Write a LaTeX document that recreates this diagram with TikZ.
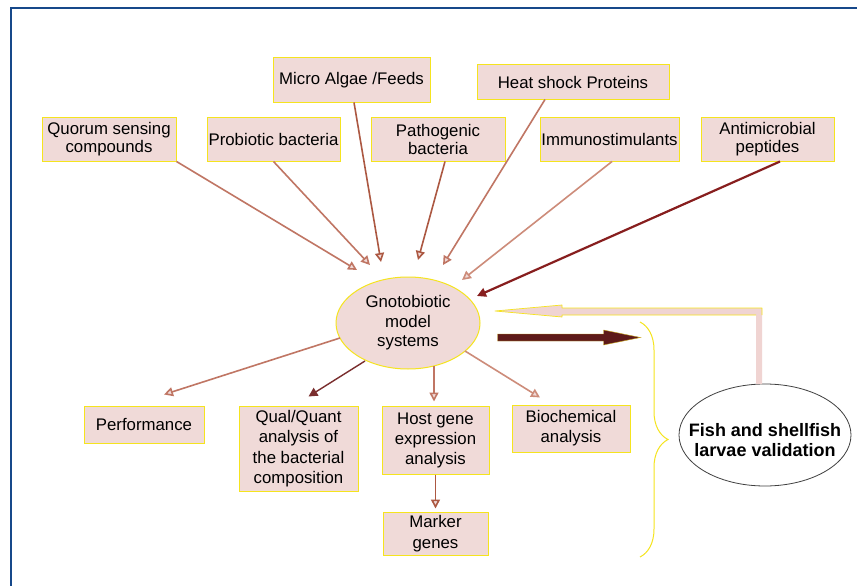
\documentclass[tikz,border=0pt]{standalone}
\usepackage{fontspec}
\setmainfont{Liberation Sans}
\usetikzlibrary{arrows.meta,shapes.geometric,decorations.pathreplacing,calc}
\definecolor{boxfill}{RGB}{240,218,216}
\definecolor{boxline}{RGB}{245,228,30}
\definecolor{arrlight}{RGB}{192,118,100}
\definecolor{arrpale}{RGB}{205,140,122}
\definecolor{arrmid}{RGB}{172,88,66}
\definecolor{arrdark}{RGB}{122,46,46}
\definecolor{arrdeep}{RGB}{135,30,30}
\definecolor{thickarr}{RGB}{94,26,26}
\definecolor{framecol}{RGB}{22,72,138}
\definecolor{fbpink}{RGB}{240,212,210}
\begin{document}
\begin{tikzpicture}[x=1pt,y=-1pt,
  box/.style={draw=boxline, line width=1pt, fill=boxfill, inner sep=0pt, align=center,
    font=\fontsize{16.8}{18}\selectfont},
  lowbox/.style={box, font=\fontsize{16.8}{20.5}\selectfont},
  inarr/.style={draw=#1, line width=1.6pt, -{Triangle[length=9pt,width=9pt,fill=boxfill]}},
  fullarr/.style={draw=#1, line width=1.8pt, -{Triangle[length=9pt,width=9pt]}},
]
\useasboundingbox (0,0) rectangle (857,586);
\fill[white] (0,0) rectangle (857,586);
\draw[framecol, line width=2.5pt] (11,586) -- (11,8) -- (857,8);

% top boxes
\node[box, minimum width=134pt, minimum height=44pt] (qs) at (109,139) {Quorum sensing\\compounds};
\node[box, minimum width=133pt, minimum height=44pt] (pb) at (273.5,139) {Probiotic bacteria};
\node[box, minimum width=157pt, minimum height=44pt] (ma) at (351.5,80) {Micro Algae /Feeds};
\node[box, minimum width=134pt, minimum height=44pt] (pa) at (438,139) {Pathogenic\\bacteria};
\node[box, minimum width=192pt, minimum height=34pt] (hs) at (573,82) {Heat shock Proteins};
\node[box, minimum width=139pt, minimum height=44pt] (im) at (609.5,139) {Immunostimulants};
\node[box, minimum width=133pt, minimum height=44pt] (am) at (767.5,139) {Antimicrobial\\peptides};

% centre
\node[ellipse, draw=boxline, line width=1pt, fill=boxfill, minimum width=144pt, minimum height=92pt,
  inner sep=0pt, align=center, font=\fontsize{16.8}{19.5}\selectfont] (gn) at (408,323) {Gnotobiotic\\model\\systems};

% bottom boxes
\node[lowbox, minimum width=120pt, minimum height=37pt] (perf) at (144,424.5) {Performance};
\node[lowbox, minimum width=119pt, minimum height=85pt] (qq) at (298.5,448.5) {Qual/Quant\\analysis of\\the bacterial\\composition};
\node[lowbox, minimum width=107pt, minimum height=68pt, font=\fontsize{16.8}{20}\selectfont] (hg) at (435.5,440) {Host gene\\expression\\analysis};
\node[lowbox, minimum width=118pt, minimum height=47pt, font=\fontsize{16.8}{20}\selectfont] (bc) at (571,428.5) {Biochemical\\analysis};
\node[lowbox, minimum width=105pt, minimum height=43pt] (mg) at (435.5,533.5) {Marker\\genes};

% fish ellipse
\node[ellipse, draw=black!75, line width=0.8pt, fill=white, minimum width=172pt, minimum height=102pt, inner sep=0pt] (fish) at (765,435) {};
\node[align=center, inner sep=0pt, font=\bfseries\fontsize{18}{20}\selectfont] (fishtxt) at (765,440) {Fish and shellfish\\larvae validation};

% incoming arrows
\draw[inarr=arrlight] (qs.south east) -- ($(gn)+(-51,-53)$);
\draw[inarr=arrlight] (pb.south) -- ($(gn)+(-38,-58)$);
\draw[inarr=arrmid] ($(ma.south)+(2.5,0)$) -- ($(gn)+(-27,-61)$);
\draw[inarr=arrmid] ($(pa.south)+(7,0)$) -- ($(gn)+(10,-63)$);
\draw[inarr=arrlight] ($(hs.south)+(-28,0)$) -- ($(gn)+(35,-58)$);
\draw[inarr=arrpale] ($(im.south)+(2.5,0)$) -- ($(gn)+(54,-43)$);
\draw[fullarr=arrdeep, line width=2.2pt] ($(am.south)+(12.5,0)$) -- ($(gn)+(69,-27)$);

% outgoing arrows
\draw[inarr=arrlight] ($(gn)+(-68,15)$) -- ($(perf.north)+(20,-11)$);
\draw[fullarr=arrdark, line width=1.4pt] ($(gn)+(-43,38)$) -- ($(qq.north)+(10,-9)$);
\draw[inarr=arrlight] ($(gn)+(26,43)$) -- ($(hg.north)+(-1.5,-4)$);
\draw[inarr=arrpale] ($(gn)+(57,28)$) -- ($(bc.north)+(-31,-7)$);
\draw[inarr=arrmid] (hg.south) -- ($(mg.north)+(0,-3)$);

% thick arrow
\coordinate (thA) at ($(gn.east)+(17,14.5)$);
\coordinate (thB) at ($(gn.east)+(160,14.5)$);
\filldraw[fill=thickarr, draw=boxline!70!thickarr, line width=0.4pt]
  ($(thA)+(0,-3.5)$) -- ($(thB)+(-37,-3.5)$) -- ($(thB)+(-37,-7.5)$) -- (thB)
  -- ($(thB)+(-37,7.5)$) -- ($(thB)+(-37,3.5)$) -- ($(thA)+(0,3.5)$) -- cycle;

% feedback arrow from fish to gnotobiotic
\fill[fbpink] (495,311) -- (562,305) -- (562,308) -- (762,308) -- (762,384) -- (756,384)
  -- (756,315) -- (562,315) -- (562,317) -- cycle;
\draw[boxline, line width=0.7pt, line join=round] (762,315) -- (762,308) -- (562,308) -- (562,305)
  -- (495,311) -- (562,317) -- (562,315) -- (756,315);

% brace
\draw[boxline, line width=1pt, decorate, decoration={brace, amplitude=28pt}] (640,322) -- (640,557);
\end{tikzpicture}
\end{document}
